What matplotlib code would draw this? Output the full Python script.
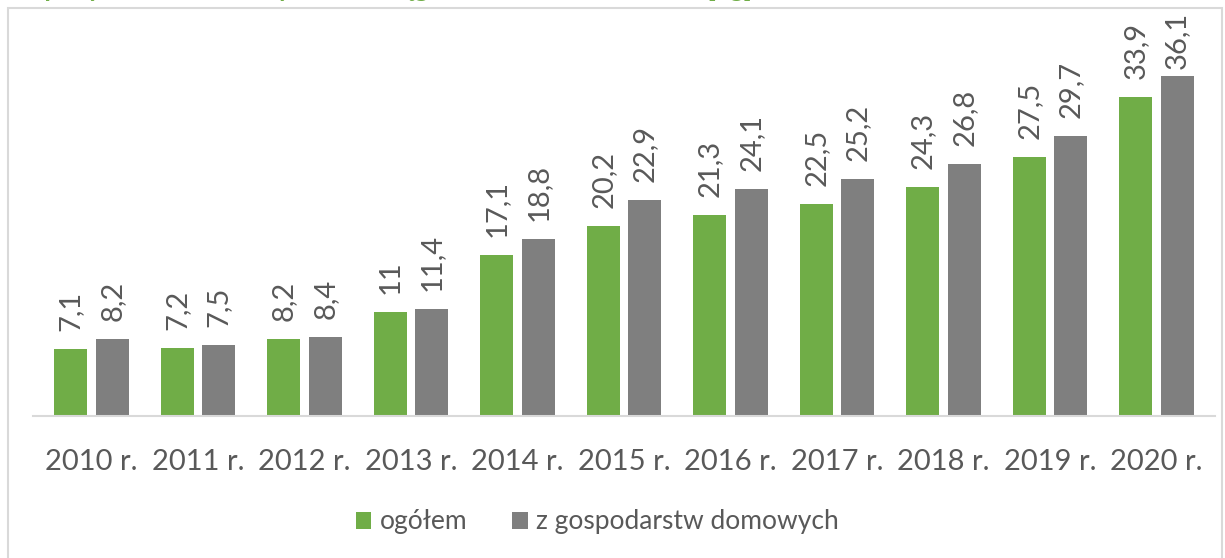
import numpy as np
import matplotlib.pyplot as plt
from matplotlib.patches import Rectangle

plt.rcParams['font.family'] = ['Lato', 'DejaVu Sans']

# data
years = ['2010 r.', '2011 r.', '2012 r.', '2013 r.', '2014 r.', '2015 r.',
         '2016 r.', '2017 r.', '2018 r.', '2019 r.', '2020 r.']
ogolem = [7.1, 7.2, 8.2, 11, 17.1, 20.2, 21.3, 22.5, 24.3, 27.5, 33.9]
domowe = [8.2, 7.5, 8.4, 11.4, 18.8, 22.9, 24.1, 25.2, 26.8, 29.7, 36.1]
series_names = ['ogółem', 'z gospodarstw domowych']

green = '#70ad47'
grey = '#7f7f7f'
txt = '#595959'

W, H = 1225, 558
fig = plt.figure(figsize=(W / 100, H / 100), dpi=100)

# outer chart frame
fig.patches.append(Rectangle((8 / W, -0.05), (1222 - 8) / W, 1.05 - 8 / H,
                             transform=fig.transFigure, fill=False,
                             edgecolor='#d9d9d9', lw=1.5))

# title, cut by the top edge as in the source picture
fig.text(8 / W, 1 + 3 / H, 'Odpady zebrane selektywnie w ciągu roku na 1 mieszkańca [kg]',
         color=green, fontsize=19, fontweight='bold', ha='left', va='baseline')

ax = fig.add_axes([33 / W, 1 - 416 / H, (1215 - 33) / W, (416 - 30) / H])
x = np.arange(len(years))
w = 0.31
off = 0.195
b1 = ax.bar(x - off, ogolem, w, color=green, label=series_names[0])
b2 = ax.bar(x + off, domowe, w, color=grey, label=series_names[1])

def fmt(v):
    s = f'{v:g}'
    return s.replace('.', ',')

labels = []
for bars, vals in ((b1, ogolem), (b2, domowe)):
    for r, v in zip(bars, vals):
        t = ax.annotate(fmt(v), (r.get_x() + r.get_width() / 2, v),
                        xytext=(0, 13), textcoords='offset points',
                        rotation=90, ha='center', va='bottom',
                        fontsize=21, color=txt)
        labels.append(t)

ax.set_xlim(-0.55, len(years) - 0.45)
ax.set_ylim(0, 41)
ax.set_xticks(x)
ax.set_xticklabels(years, fontsize=21, color=txt)
ax.tick_params(axis='x', length=0, pad=24)
ax.set_yticks([])
for s in ['top', 'right', 'left']:
    ax.spines[s].set_visible(False)
ax.spines['bottom'].set_color('#d9d9d9')
ax.spines['bottom'].set_linewidth(1.5)

leg = fig.legend(handles=[b1, b2], loc='center', bbox_to_anchor=(597 / W, 1 - 522 / H),
                 ncol=2, frameon=False, fontsize=19, handlelength=0.6,
                 handleheight=0.6, handletextpad=0.3, columnspacing=1.7)
for t in leg.get_texts():
    t.set_color(txt)

# keep labels inside the chart area (pushed down like the source does)
fig.canvas.draw()
top_limit = H - 12
for t in labels:
    bb = t.get_window_extent()
    if bb.y1 > top_limit:
        dy = (bb.y1 - top_limit) * 72 / fig.dpi
        t.xyann = (0, max(13 - dy, 4))

fig.savefig('out.png', dpi=100)
